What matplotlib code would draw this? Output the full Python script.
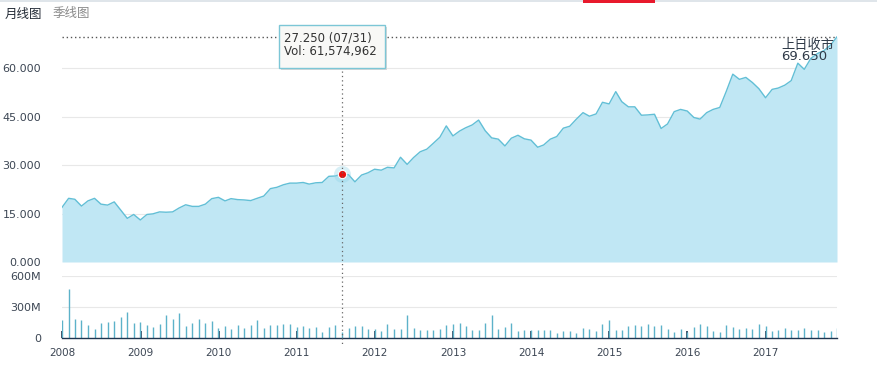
import matplotlib
matplotlib.use("Agg")
import matplotlib.pyplot as plt
import matplotlib.dates as mdates
import matplotlib.transforms as mtransforms
from matplotlib.patches import Rectangle
from matplotlib.lines import Line2D
import pandas as pd
import numpy as np

plt.rcParams['font.family'] = ['DejaVu Sans', 'Noto Sans CJK SC']

# ---------------- data ----------------
dates = pd.date_range('2007-12-31', periods=120, freq='ME')

price = [
    16.9, 19.7, 19.4, 17.3, 18.9, 19.7, 17.9, 17.6, 18.6, 16.1,
    13.5, 14.7, 13.0, 14.7, 14.9, 15.5, 15.4, 15.5, 16.7, 17.7,
    17.2, 17.2, 17.9, 19.6, 20.0, 18.9, 19.6, 19.3, 19.2, 19.0,
    19.7, 20.4, 22.7, 23.1, 23.9, 24.4, 24.4, 24.6, 24.1, 24.5,
    24.6, 26.5, 26.6, 27.25, 27.0, 24.8, 26.9, 27.6, 28.7, 28.4,
    29.3, 29.1, 32.4, 30.2, 32.3, 34.1, 34.9, 36.7, 38.6, 42.1,
    39.0, 40.5, 41.5, 42.4, 43.9, 40.6, 38.4, 38.0, 35.9, 38.3,
    39.2, 38.1, 37.7, 35.5, 36.2, 38.0, 38.8, 41.4, 42.0, 44.2,
    46.2, 45.1, 45.8, 49.4, 48.9, 52.7, 49.6, 48.0, 48.0, 45.4,
    45.5, 45.7, 41.3, 42.7, 46.5, 47.2, 46.7, 44.7, 44.2, 46.2,
    47.2, 47.8, 52.7, 58.1, 56.5, 57.1, 55.5, 53.6, 50.8, 53.4,
    53.8, 54.7, 56.1, 61.5, 59.6, 63.0, 64.5, 65.4, 67.1, 69.65,
]

volume_m = [
    176, 470, 186, 176, 127, 88, 147, 156, 166, 205,
    254, 150, 156, 127, 108, 137, 218, 186, 245, 117,
    147, 186, 147, 166, 98, 117, 88, 127, 98, 127,
    176, 98, 127, 127, 137, 137, 108, 117, 98, 108,
    59, 108, 127, 61.574962, 98, 117, 117, 88, 88, 68,
    137, 88, 88, 225, 98, 78, 78, 78, 88, 127,
    137, 147, 117, 78, 78, 147, 225, 88, 108, 147,
    68, 78, 78, 78, 78, 78, 52, 68, 68, 49,
    98, 88, 68, 137, 176, 78, 78, 117, 127, 117,
    137, 117, 127, 88, 59, 88, 59, 108, 137, 117,
    68, 59, 127, 108, 88, 98, 88, 137, 117, 68,
    78, 98, 78, 78, 98, 78, 78, 59, 68, 98,
]

price_ticks = [0, 15, 30, 45, 60]
price_tick_labels = ['0.000', '15.000', '30.000', '45.000', '60.000']
vol_ticks = [0, 300, 600]
vol_tick_labels = ['0', '300M', '600M']
years = list(range(2008, 2018))

hover_index = 43
tooltip_lines = ['27.250 (07/31)', 'Vol: 61,574,962']
last_close = 69.65
last_close_label = ['上日收市', '69.650']
tabs = ['月线图', '季线图']

# ---------------- layout helpers ----------------
W, H = 877, 373
def fx(x):
    return x / W
def fy(y):
    return 1 - y / H

fig = plt.figure(figsize=(W / 100, H / 100), dpi=100)
fig.patch.set_facecolor('white')

x0, x1 = 62, 837
ax = fig.add_axes([fx(x0), fy(262), fx(x1) - fx(x0), fy(35.7) - fy(262)])
ax2 = fig.add_axes([fx(x0), fy(338), fx(x1) - fx(x0), fy(276) - fy(338)])

label_color = '#3c4654'
grid_color = '#e8e8e8'

# ---------------- price panel ----------------
ax.fill_between(dates, price, 0, color='#c0e7f4', lw=0, zorder=2)
ax.plot(dates, price, color='#62bfd6', lw=1.0, zorder=3)
ax.set_xlim(dates[0], dates[-1])
ax.set_ylim(0, 70)
ax.set_yticks(price_ticks)
ax.set_yticklabels(price_tick_labels)
ax.tick_params(axis='y', length=0, pad=15, labelsize=8, labelcolor=label_color)
ax.tick_params(axis='x', length=0, labelbottom=False)
for v in price_ticks:
    ax.axhline(v, color=grid_color, lw=0.8, zorder=1)
for s in ax.spines.values():
    s.set_visible(False)
ax.axhline(last_close, color='#555555', lw=1.0, ls=(0, (1, 2)), zorder=4)

# hover marker
hx = dates[hover_index]
hy = price[hover_index]
ax.scatter([hx], [hy], s=150, color='#8fd3e8', alpha=0.35, lw=0, zorder=5)
ax.scatter([hx], [hy], s=36, color='#e8100f', edgecolor='white', lw=0.8, zorder=6)

ax.text(fx(781), fy(45), last_close_label[0], transform=fig.transFigure,
        fontsize=9.5, color='#2f3a48', va='center', ha='left', zorder=7)
ax.text(fx(781), fy(57), last_close_label[1], transform=fig.transFigure,
        fontsize=9.5, color='#2f3a48', va='center', ha='left', zorder=7)

# ---------------- volume panel ----------------
ax2.vlines(dates, 0, volume_m, color='#5cb2c9', lw=1.0, zorder=2)
ax2.set_xlim(dates[0], dates[-1])
ax2.set_ylim(0, 600)
ax2.set_yticks(vol_ticks)
ax2.set_yticklabels(vol_tick_labels)
ax2.tick_params(axis='y', length=0, pad=15, labelsize=8, labelcolor=label_color)
for v in vol_ticks[1:]:
    ax2.axhline(v, color=grid_color, lw=0.8, zorder=1)
for name, s in ax2.spines.items():
    s.set_visible(name == 'bottom')
ax2.spines['bottom'].set_color('#1f3550')
ax2.spines['bottom'].set_linewidth(1.0)
ax2.set_xticks([pd.Timestamp(f'{y}-01-01') for y in years])
ax2.set_xticklabels([str(y) for y in years])
ax2.tick_params(axis='x', direction='in', length=5, width=1.2, color='#1f3550',
                pad=7, labelsize=7.5, labelcolor=label_color)

# ---------------- crosshair ----------------
trans = mtransforms.blended_transform_factory(ax.transData, fig.transFigure)
fig.add_artist(Line2D([mdates.date2num(hx)] * 2, [fy(36), fy(345)], transform=trans,
                      color='#666666', lw=0.9, ls=(0, (1, 2.5)), zorder=3))

# ---------------- tooltip ----------------
bx0, by0, bx1, by1 = 279, 25, 385, 68
fig.add_artist(Rectangle((fx(bx0 + 2), fy(by1 + 2)), fx(bx1 - bx0), fy(by0) - fy(by1),
                         transform=fig.transFigure, fc='#d8d8d8', ec='none', zorder=9))
fig.add_artist(Rectangle((fx(bx0), fy(by1)), fx(bx1 - bx0), fy(by0) - fy(by1),
                         transform=fig.transFigure, fc='#f8f8f6', ec='#7cc6d6', lw=1.0, zorder=10))
fig.text(fx(284), fy(38), tooltip_lines[0], fontsize=8.5, color='#333333',
         va='center', ha='left', zorder=11)
fig.text(fx(284), fy(52), tooltip_lines[1], fontsize=8.5, color='#333333',
         va='center', ha='left', zorder=11)

# ---------------- header ----------------
fig.add_artist(Rectangle((0, fy(1.5)), 1, fy(0) - fy(1.5), transform=fig.transFigure,
                         fc='#dfe5ea', ec='none'))
fig.add_artist(Rectangle((fx(583), fy(3)), fx(655 - 583), fy(0) - fy(3), transform=fig.transFigure,
                         fc='#e8192c', ec='none'))
fig.text(fx(5), fy(14), tabs[0], fontsize=9, color='#222a35', va='center', ha='left')
fig.text(fx(53), fy(14), tabs[1], fontsize=9, color='#8a8a8a', va='center', ha='left')

fig.savefig('out.png', dpi=100)
